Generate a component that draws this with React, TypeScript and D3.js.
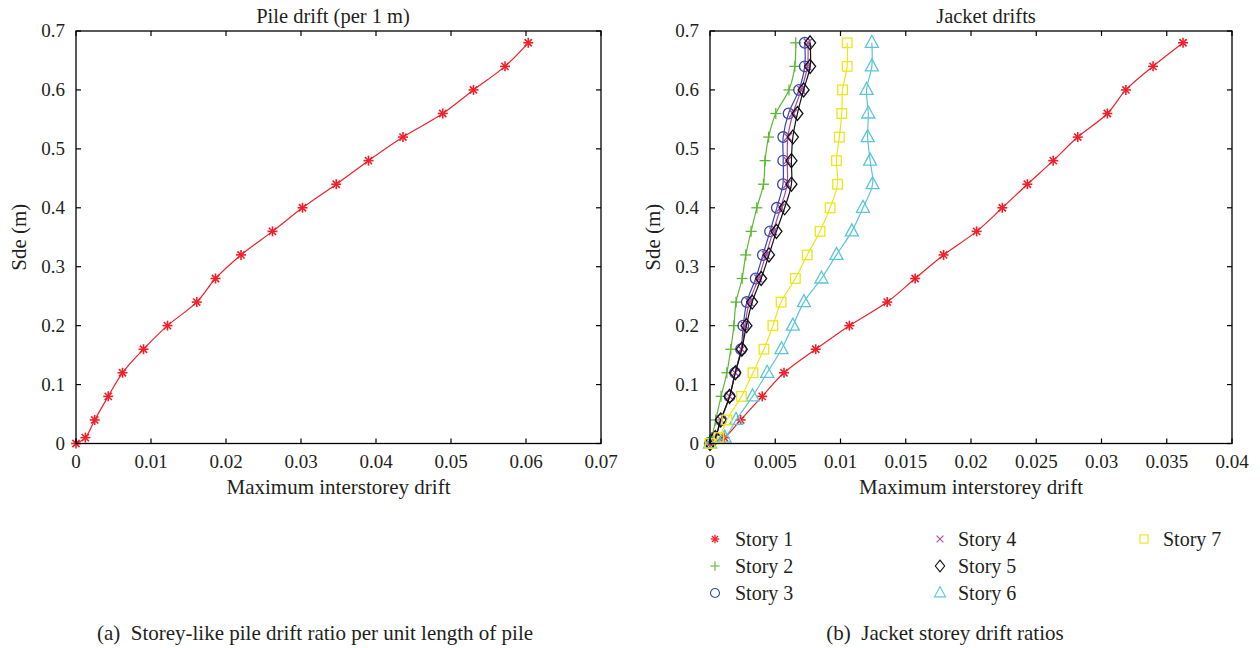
import React from "react";
import * as d3 from "d3";

// ---------- data ----------
const sdeLevels = [0, 0.01, 0.04, 0.08, 0.12, 0.16, 0.2, 0.24, 0.28, 0.32, 0.36, 0.4, 0.44, 0.48, 0.52, 0.56, 0.6, 0.64, 0.68];

const pileDrift = [0, 0.00125, 0.0025, 0.0043, 0.0062, 0.009, 0.0122, 0.0161, 0.0186, 0.022, 0.0262, 0.0302, 0.0347, 0.039, 0.0436, 0.0489, 0.053, 0.0572, 0.0603];

const story1 = [0, 0.0011, 0.00235, 0.004, 0.00567, 0.0081, 0.01068, 0.01358, 0.01572, 0.0179, 0.02043, 0.0224, 0.02432, 0.0263, 0.02818, 0.03045, 0.03187, 0.03395, 0.03625];
const story2 = [0, 0.00014, 0.00044, 0.00085, 0.00129, 0.00159, 0.00183, 0.002, 0.00246, 0.00274, 0.00315, 0.00359, 0.0041, 0.00422, 0.00449, 0.00504, 0.00605, 0.0065, 0.00657];
const story3 = [0, 0.00036, 0.00085, 0.0015, 0.00192, 0.00238, 0.00255, 0.00282, 0.0035, 0.00405, 0.0046, 0.00512, 0.00559, 0.00561, 0.00561, 0.00602, 0.00682, 0.00726, 0.00726];
const story4 = [0, 0.00039, 0.00084, 0.0015, 0.00193, 0.00241, 0.00267, 0.00302, 0.00371, 0.00428, 0.00484, 0.00541, 0.00591, 0.00592, 0.00597, 0.00636, 0.00699, 0.00747, 0.0075];
const story5 = [0, 0.00041, 0.00082, 0.0015, 0.00194, 0.00244, 0.00279, 0.00323, 0.00392, 0.00452, 0.00509, 0.00572, 0.00624, 0.00624, 0.00635, 0.0067, 0.00717, 0.00767, 0.00767];
const story6 = [0, 0.00112, 0.002, 0.00326, 0.00438, 0.00548, 0.00635, 0.0072, 0.00854, 0.00969, 0.01087, 0.01172, 0.01246, 0.01227, 0.01208, 0.01213, 0.012, 0.0124, 0.0124];
const story7 = [0, 0.00068, 0.00129, 0.00241, 0.00329, 0.00413, 0.00482, 0.00545, 0.00654, 0.00745, 0.00843, 0.0092, 0.00977, 0.00969, 0.00991, 0.0101, 0.01016, 0.01051, 0.01051];

const yTicks = [0, 0.1, 0.2, 0.3, 0.4, 0.5, 0.6, 0.7];
const yTickLabels = ["0", "0.1", "0.2", "0.3", "0.4", "0.5", "0.6", "0.7"];
const pileXTicks = [0, 0.01, 0.02, 0.03, 0.04, 0.05, 0.06, 0.07];
const pileXTickLabels = ["0", "0.01", "0.02", "0.03", "0.04", "0.05", "0.06", "0.07"];
const jacketXTicks = [0, 0.005, 0.01, 0.015, 0.02, 0.025, 0.03, 0.035, 0.04];
const jacketXTickLabels = ["0", "0.005", "0.01", "0.015", "0.02", "0.025", "0.03", "0.035", "0.04"];

const storyNames = ["Story 1", "Story 2", "Story 3", "Story 4", "Story 5", "Story 6", "Story 7"];
const storyValues = [story1, story2, story3, story4, story5, story6, story7];
const storyColors = ["#f0202a", "#5cb834", "#3548b0", "#b0479f", "#111111", "#5cc6d6", "#ece61a"];
const storyMarkers = ["asterisk", "plus", "circle", "cross", "diamond", "triangle", "square"];

// ---------- styles ----------
const FONT = "'Liberation Serif', 'Times New Roman', serif";
const TEXT = "#231f20";

function Marker({ type, x, y, color, scale = 1 }: { type: string; x: number; y: number; color: string; scale?: number }) {
  const sw = 1.3;
  const t = `translate(${x},${y}) scale(${scale})`;
  if (type === "asterisk") {
    const s = 5, d = 3.6;
    return (
      <g transform={t} stroke={color} strokeWidth={1.6}>
        <line x1={-s} y1={0} x2={s} y2={0} />
        <line x1={0} y1={-s} x2={0} y2={s} />
        <line x1={-d} y1={-d} x2={d} y2={d} />
        <line x1={-d} y1={d} x2={d} y2={-d} />
      </g>
    );
  }
  if (type === "plus") {
    const s = 5.5;
    return (
      <g transform={t} stroke={color} strokeWidth={sw}>
        <line x1={-s} y1={0} x2={s} y2={0} />
        <line x1={0} y1={-s} x2={0} y2={s} />
      </g>
    );
  }
  if (type === "cross") {
    const s = 4;
    return (
      <g transform={t} stroke={color} strokeWidth={sw}>
        <line x1={-s} y1={-s} x2={s} y2={s} />
        <line x1={-s} y1={s} x2={s} y2={-s} />
      </g>
    );
  }
  if (type === "circle") {
    return <circle transform={t} r={5.3} fill="none" stroke={color} strokeWidth={sw} />;
  }
  if (type === "diamond") {
    return <path transform={t} d="M0,-7L5.5,0L0,7L-5.5,0Z" fill="none" stroke={color} strokeWidth={sw} />;
  }
  if (type === "triangle") {
    return <path transform={t} d="M0,-7.5L6.5,4.5L-6.5,4.5Z" fill="none" stroke={color} strokeWidth={sw} />;
  }
  // square
  return <rect transform={t} x={-4.8} y={-4.8} width={9.6} height={9.6} fill="none" stroke={color} strokeWidth={sw} />;
}

type Series = { values: number[]; color: string; marker: string };

function Panel({
  left, right, top, bottom, xMax, xTicks, xTickLabels, title, titleX, series,
}: {
  left: number; right: number; top: number; bottom: number; xMax: number;
  xTicks: number[]; xTickLabels: string[]; title: string; titleX: number; series: Series[];
}) {
  const x = d3.scaleLinear().domain([0, xMax]).range([left, right]);
  const y = d3.scaleLinear().domain([0, 0.7]).range([bottom, top]);
  const line = d3
    .line<[number, number]>()
    .x((d) => x(d[0]))
    .y((d) => y(d[1]))
    .curve(d3.curveCatmullRom.alpha(0.5));
  const tl = 5;
  return (
    <g>
      <text x={titleX} y={23} textAnchor="middle" fontFamily={FONT} fontSize={20.5} fill={TEXT}>{title}</text>
      {/* series */}
      {series.map((s, i) => {
        const pts: [number, number][] = s.values.map((v, j) => [v, sdeLevels[j]]);
        return (
          <g key={i}>
            <path d={line(pts) || ""} fill="none" stroke={s.color} strokeWidth={1.2} />
            {pts.map((p, j) => (
              <Marker key={j} type={s.marker} x={x(p[0])} y={y(p[1])} color={s.color} />
            ))}
          </g>
        );
      })}
      {/* frame */}
      <rect x={left} y={top} width={right - left} height={bottom - top} fill="none" stroke="#000" strokeWidth={1.3} />
      {xTicks.map((t, i) => (
        <g key={"x" + i}>
          <line x1={x(t)} x2={x(t)} y1={bottom} y2={bottom - tl} stroke="#000" strokeWidth={1.2} />
          <line x1={x(t)} x2={x(t)} y1={top} y2={top + tl} stroke="#000" strokeWidth={1.2} />
          <text x={x(t)} y={bottom + 24.5} textAnchor="middle" fontFamily={FONT} fontSize={19} fill={TEXT}>{xTickLabels[i]}</text>
        </g>
      ))}
      {yTicks.map((t, i) => (
        <g key={"y" + i}>
          <line x1={left} x2={left + tl} y1={y(t)} y2={y(t)} stroke="#000" strokeWidth={1.2} />
          <line x1={right} x2={right - tl} y1={y(t)} y2={y(t)} stroke="#000" strokeWidth={1.2} />
          <text x={left - 11} y={y(t) + 6} textAnchor="end" fontFamily={FONT} fontSize={19} fill={TEXT}>{yTickLabels[i]}</text>
        </g>
      ))}
      <text x={(left + right) / 2} y={494} textAnchor="middle" fontFamily={FONT} fontSize={21} fill={TEXT}>Maximum interstorey drift</text>
      <text transform={`translate(${left - 50},${(top + bottom) / 2}) rotate(-90)`} textAnchor="middle" fontFamily={FONT} fontSize={21} fill={TEXT}>Sde (m)</text>
    </g>
  );
}

export default function App() {
  const pileSeries: Series[] = [{ values: pileDrift, color: storyColors[0], marker: "asterisk" }];
  const jacketSeries: Series[] = storyValues.map((v, i) => ({ values: v, color: storyColors[i], marker: storyMarkers[i] }));
  const legendCols = [
    { mx: 715, tx: 735 },
    { mx: 940, tx: 958 },
    { mx: 1144, tx: 1163 },
  ];
  const legendRows = [539, 566, 593];
  return (
    <svg width={1260} height={648} style={{ position: "absolute", left: 0, top: 0, background: "#fff" }}>
      <rect width={1260} height={648} fill="#fff" />
      <Panel left={76} right={601} top={31} bottom={443.5} xMax={0.07} xTicks={pileXTicks} xTickLabels={pileXTickLabels}
        title="Pile drift (per 1 m)" titleX={333} series={pileSeries} />
      <Panel left={710} right={1232} top={31} bottom={443.5} xMax={0.04} xTicks={jacketXTicks} xTickLabels={jacketXTickLabels}
        title="Jacket drifts" titleX={986} series={jacketSeries} />
      {storyNames.map((name, i) => {
        const col = legendCols[Math.floor(i / 3)];
        const row = legendRows[i % 3];
        return (
          <g key={name}>
            <Marker type={storyMarkers[i]} x={col.mx} y={row} color={storyColors[i]} scale={0.85} />
            <text x={col.tx} y={row + 6.5} fontFamily={FONT} fontSize={20} fill={TEXT}>{name}</text>
          </g>
        );
      })}
      <text x={315} y={640} textAnchor="middle" fontFamily={FONT} fontSize={21} fill={TEXT} xmlSpace="preserve">(a)  Storey-like pile drift ratio per unit length of pile</text>
      <text x={945} y={640} textAnchor="middle" fontFamily={FONT} fontSize={21} fill={TEXT} xmlSpace="preserve">(b)  Jacket storey drift ratios</text>
    </svg>
  );
}
